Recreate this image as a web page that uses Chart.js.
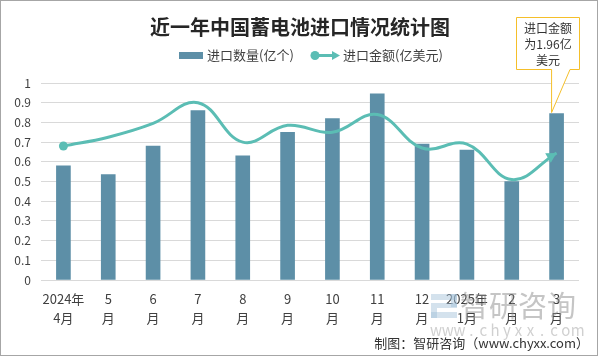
<!DOCTYPE html>
<html>
<head>
<meta charset="utf-8">
<script src="https://cdn.jsdelivr.net/npm/chart.js@4/dist/chart.umd.min.js"></script>
<style>
  html, body { margin: 0; padding: 0; background: #fff; }
  #wrap { width: 600px; height: 356px; position: relative; }
  canvas { display: block; }
</style>
</head>
<body>
<div id="wrap"><canvas id="c" width="600" height="356"></canvas></div>
<script>
const categories = [
  ['2024年', '4月'], ['5', '月'], ['6', '月'], ['7', '月'], ['8', '月'], ['9', '月'],
  ['10', '月'], ['11', '月'], ['12', '月'], ['2025年', '1月'], ['2', '月'], ['3', '月']
];
const quantityValues = [0.58, 0.535, 0.68, 0.86, 0.63, 0.75, 0.82, 0.945, 0.69, 0.66, 0.50, 0.845];
const amountValues = [0.68, 0.725, 0.795, 0.90, 0.70, 0.785, 0.75, 0.84, 0.67, 0.69, 0.51, 0.645];
const yTickLabels = ['0', '0.1', '0.2', '0.3', '0.4', '0.5', '0.6', '0.7', '0.8', '0.9', '1'];
const seriesNames = ['进口数量(亿个)', '进口金额(亿美元)'];
const titleText = '近一年中国蓄电池进口情况统计图';
const calloutLines = ['进口金额', '为1.96亿', '美元'];
const footerText = '制图：智研咨询（www.chyxx.com）';
const watermarkName = '智研咨询';
const watermarkUrl = 'www.chyxx.com';

const BAR_COLOR = '#5d8fa7';
const LINE_COLOR = '#5bbdb4';
const TEXT_COLOR = '#404040';
const FONT = '"Noto Sans CJK SC", "Noto Sans", sans-serif';

const decorPlugin = {
  id: 'decor',
  beforeDraw(chart) {
    const ctx = chart.ctx;
    ctx.save();
    ctx.fillStyle = '#fff';
    ctx.fillRect(0, 0, chart.width, chart.height);
    ctx.restore();
  },
  afterDatasetsDraw(chart) {
    const ctx = chart.ctx;
    // arrow head at end of line
    const lm = chart.getDatasetMeta(1);
    const last = lm.data[lm.data.length - 1];
    const px = last.x, py = last.y;
    const cx = last.cp1x !== undefined ? last.cp1x : lm.data[lm.data.length - 2].x;
    const cy = last.cp1y !== undefined ? last.cp1y : lm.data[lm.data.length - 2].y;
    const ang = Math.atan2(py - cy, px - cx);
    const L = 10, W = 5.5;
    ctx.save();
    ctx.fillStyle = LINE_COLOR;
    ctx.beginPath();
    ctx.moveTo(px, py);
    ctx.lineTo(px - L * Math.cos(ang) + W * Math.sin(ang), py - L * Math.sin(ang) - W * Math.cos(ang));
    ctx.lineTo(px - L * Math.cos(ang) - W * Math.sin(ang), py - L * Math.sin(ang) + W * Math.cos(ang));
    ctx.closePath();
    ctx.fill();
    ctx.restore();
  },
  afterDraw(chart) {
    const ctx = chart.ctx;
    ctx.save();
    // watermark logo
    ctx.fillStyle = 'rgba(160,190,215,0.45)';
    ctx.fillRect(431, 294, 26, 6);
    ctx.fillRect(451, 294, 6, 13);
    ctx.fillRect(437, 303, 20, 5);
    ctx.fillRect(431, 303, 6, 15);
    ctx.fillRect(431, 312, 26, 6);
    // watermark text
    ctx.fillStyle = 'rgba(140,140,140,0.5)';
    ctx.font = '29px ' + FONT;
    ctx.textAlign = 'left';
    ctx.textBaseline = 'middle';
    ctx.fillText(watermarkName, 460, 306);
    ctx.fillStyle = 'rgba(170,170,170,0.55)';
    ctx.font = '15px ' + FONT;
    ctx.textAlign = 'center';
    const chars = watermarkUrl.split('');
    chars.forEach((ch, i) => ctx.fillText(ch, 436 + i * 11.8, 330));

    // title
    ctx.fillStyle = '#262626';
    ctx.font = 'bold 20px ' + FONT;
    ctx.textAlign = 'center';
    ctx.textBaseline = 'middle';
    ctx.fillText(titleText, 300, 27);

    // legend
    ctx.font = '13px ' + FONT;
    ctx.textAlign = 'left';
    ctx.fillStyle = BAR_COLOR;
    ctx.fillRect(179, 52, 24, 7);
    ctx.fillStyle = TEXT_COLOR;
    ctx.fillText(seriesNames[0], 207, 55.5);
    ctx.strokeStyle = LINE_COLOR;
    ctx.lineWidth = 3;
    ctx.beginPath();
    ctx.moveTo(315, 55.5);
    ctx.lineTo(334, 55.5);
    ctx.stroke();
    ctx.fillStyle = LINE_COLOR;
    ctx.beginPath();
    ctx.arc(315, 55.5, 4.5, 0, Math.PI * 2);
    ctx.fill();
    ctx.beginPath();
    ctx.moveTo(340, 55.5);
    ctx.lineTo(332, 51);
    ctx.lineTo(332, 60);
    ctx.closePath();
    ctx.fill();
    ctx.fillStyle = TEXT_COLOR;
    ctx.fillText(seriesNames[1], 343, 55.5);

    // callout
    const bm = chart.getDatasetMeta(0);
    const bar = bm.data[bm.data.length - 1];
    const tipX = bar.x - bar.width / 2 + 2;
    const tipY = bar.y - 1;
    const bx0 = 516.5, bx1 = 579.5, by0 = 17.5, by1 = 69.5;
    ctx.beginPath();
    ctx.moveTo(bx0, by0);
    ctx.lineTo(bx1, by0);
    ctx.lineTo(bx1, by1);
    ctx.lineTo(570, by1);
    ctx.lineTo(tipX, tipY);
    ctx.lineTo(tipX, by1);
    ctx.lineTo(bx0, by1);
    ctx.closePath();
    ctx.fillStyle = '#fff';
    ctx.fill();
    ctx.strokeStyle = '#f5bf2a';
    ctx.lineWidth = 1;
    ctx.stroke();
    ctx.fillStyle = '#333';
    ctx.font = '12px ' + FONT;
    ctx.textAlign = 'center';
    ctx.fillText(calloutLines[0], 548, 28.5);
    ctx.fillText(calloutLines[1], 548, 44.5);
    ctx.fillText(calloutLines[2], 548, 60.5);

    // footer
    ctx.fillStyle = '#333';
    ctx.font = '13px ' + FONT;
    ctx.textAlign = 'right';
    ctx.fillText(footerText, 589, 343);

    // border
    ctx.strokeStyle = '#a6a6a6';
    ctx.lineWidth = 1;
    ctx.strokeRect(0.5, 0.5, 597, 355);
    ctx.restore();
  }
};

new Chart(document.getElementById('c'), {
  data: {
    labels: categories,
    datasets: [
      {
        type: 'bar',
        label: seriesNames[0],
        data: quantityValues,
        backgroundColor: BAR_COLOR,
        barThickness: 14,
        order: 2
      },
      {
        type: 'line',
        label: seriesNames[1],
        data: amountValues,
        borderColor: LINE_COLOR,
        backgroundColor: LINE_COLOR,
        borderWidth: 3,
        tension: 0.4,
        pointRadius: amountValues.map((v, i) => i === 0 ? 4.5 : 0),
        pointHoverRadius: 0,
        pointBorderWidth: 0,
        pointBackgroundColor: LINE_COLOR,
        fill: false,
        order: 1
      }
    ]
  },
  options: {
    responsive: false,
    devicePixelRatio: 1,
    animation: false,
    layout: { padding: { left: 0, right: 21, top: 83, bottom: 0 } },
    plugins: {
      legend: { display: false },
      title: { display: false },
      tooltip: { enabled: false }
    },
    scales: {
      x: {
        offset: true,
        grid: { display: false, drawTicks: false },
        border: { display: false },
        ticks: {
          color: TEXT_COLOR,
          font: { family: FONT, size: 13, lineHeight: 1.46 },
          padding: 10,
          maxRotation: 0,
          autoSkip: false
        },
        afterFit(s) { s.height = 76; }
      },
      y: {
        min: 0,
        max: 1,
        grid: { color: '#d9d9d9', lineWidth: 1, drawTicks: false },
        border: { display: false },
        ticks: {
          stepSize: 0.1,
          color: TEXT_COLOR,
          font: { family: FONT, size: 12 },
          padding: 10,
          callback: (v, i) => yTickLabels[i]
        },
        afterFit(s) { s.width = 41; }
      }
    }
  },
  plugins: [decorPlugin]
});
</script>
</body>
</html>
